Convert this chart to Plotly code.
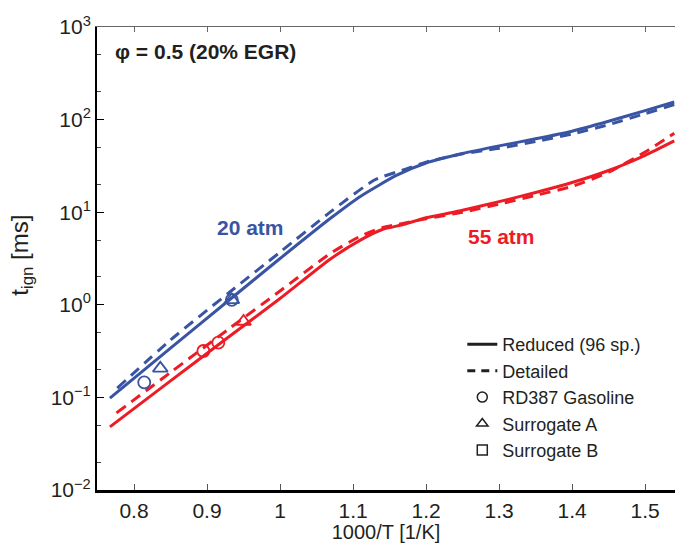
import plotly.graph_objects as go

# ---------------- data ----------------
# x = 1000/T [1/K], t = ignition delay [ms]
x_20_red = [0.767, 0.85, 0.93, 1.0, 1.07, 1.11, 1.16, 1.2, 1.25, 1.3, 1.35, 1.4, 1.45, 1.5, 1.54]
t_20_red = [0.098, 0.34, 1.12, 3.16, 8.7, 14.8, 25.1, 34, 43, 52, 62, 75, 96, 125, 155]

x_20_det = [0.777, 0.85, 0.93, 1.0, 1.07, 1.13, 1.17, 1.2, 1.25, 1.3, 1.35, 1.4, 1.45, 1.5, 1.54]
t_20_det = [0.126, 0.417, 1.35, 3.7, 10.2, 22.4, 28.8, 34.7, 42.7, 49, 58, 70, 88, 116, 145]

x_55_red = [0.767, 0.85, 0.93, 1.0, 1.07, 1.11, 1.14, 1.17, 1.2, 1.25, 1.3, 1.35, 1.4, 1.45, 1.5, 1.54]
t_55_red = [0.048, 0.151, 0.451, 1.17, 3.16, 5.0, 6.5, 7.4, 8.7, 10.5, 13.0, 16.3, 20.9, 28.2, 41.2, 59]

x_55_det = [0.776, 0.85, 0.93, 1.0, 1.07, 1.11, 1.14, 1.17, 1.2, 1.25, 1.3, 1.35, 1.4, 1.45, 1.5, 1.54]
t_55_det = [0.068, 0.186, 0.55, 1.41, 3.63, 5.5, 6.8, 7.6, 8.5, 10, 12.2, 15.2, 19.0, 27, 44.7, 71]

# experiments
x_20_gas = [0.814, 0.934]
t_20_gas = [0.145, 1.13]
x_20_surA = [0.836, 0.934]
t_20_surA = [0.206, 1.13]

x_55_gas = [0.895, 0.9155]
t_55_gas = [0.317, 0.39]
x_55_surA = [0.95]
t_55_surA = [0.66]

x_ticks = [0.8, 0.9, 1.0, 1.1, 1.2, 1.3, 1.4, 1.5]
x_tick_text = ["0.8", "0.9", "1", "1.1", "1.2", "1.3", "1.4", "1.5"]
y_ticks = [0.01, 0.1, 1, 10, 100, 1000]
y_tick_text = ["10<sup>−2</sup>", "10<sup>−1</sup>", "10<sup>0</sup>",
               "10<sup>1</sup>", "10<sup>2</sup>", "10<sup>3</sup>"]

legend_names = ["Reduced (96 sp.)", "Detailed", "RD387 Gasoline", "Surrogate A", "Surrogate B"]

BLUE = "#3A54A4"
RED = "#ED1C24"
INK = "#231F20"
FONT = "Liberation Sans, Arial, sans-serif"

fig = go.Figure()

dash = "11px,7px"
for xs, ys, col, d in [
    (x_20_det, t_20_det, BLUE, dash),
    (x_55_det, t_55_det, RED, dash),
    (x_20_red, t_20_red, BLUE, "solid"),
    (x_55_red, t_55_red, RED, "solid"),
]:
    fig.add_trace(go.Scatter(x=xs, y=ys, mode="lines", showlegend=False,
                             line=dict(color=col, width=3, dash=d, shape="spline", smoothing=0.6)))

for xs, ys, col, sym, sz in [
    (x_20_gas, t_20_gas, BLUE, "circle-open", 12),
    (x_20_surA, t_20_surA, BLUE, "triangle-up-open", 13),
    (x_55_gas, t_55_gas, RED, "circle-open", 12),
    (x_55_surA, t_55_surA, RED, "triangle-up-open", 13),
]:
    fig.add_trace(go.Scatter(x=xs, y=ys, mode="markers", showlegend=False,
                             marker=dict(symbol=sym, size=sz, color=col, line=dict(width=1.8, color=col))))

# legend entries
fig.add_trace(go.Scatter(x=[None], y=[None], mode="lines", name=legend_names[0],
                         line=dict(color=INK, width=3)))
fig.add_trace(go.Scatter(x=[None], y=[None], mode="lines", name=legend_names[1],
                         line=dict(color=INK, width=3, dash="8px,6px")))
for nm, sym in zip(legend_names[2:], ["circle-open", "triangle-up-open", "square-open"]):
    fig.add_trace(go.Scatter(x=[None], y=[None], mode="markers", name=nm,
                             marker=dict(symbol=sym, size=10, color=INK, line=dict(width=1.5, color=INK))))

# invisible trace to anchor the top axis
fig.add_trace(go.Scatter(x=[x_ticks[0]], y=[1], xaxis="x2", mode="markers", showlegend=False,
                         hoverinfo="skip", marker=dict(opacity=0)))

fig.add_annotation(x=0.0277, y=0.948, xref="paper", yref="paper", xanchor="left", yanchor="middle",
                   text="<b>φ = 0.5 (20% EGR)</b>", showarrow=False,
                   font=dict(family=FONT, size=21, color=INK))
fig.add_annotation(x=0.959, y=0.83, text="<b>20 atm</b>", showarrow=False,
                   font=dict(family=FONT, size=21, color=BLUE))
fig.add_annotation(x=1.303, y=0.743, text="<b>55 atm</b>", showarrow=False,
                   font=dict(family=FONT, size=21, color=RED))
# y-axis title
fig.add_annotation(x=-0.13, y=0.508, xref="paper", yref="paper", xanchor="center", yanchor="middle",
                   text="t<sub>ign</sub> [ms]", textangle=-90, showarrow=False,
                   font=dict(family=FONT, size=24, color=INK))

xr = [0.7493, 1.541]
fig.update_layout(
    width=675, height=543,
    margin=dict(l=97, r=0, t=27, b=53),
    paper_bgcolor="white", plot_bgcolor="white",
    font=dict(family=FONT, size=20, color=INK),
    showlegend=True,
    legend=dict(x=0.632, y=0.354, xanchor="left", yanchor="top",
                bgcolor="rgba(0,0,0,0)", font=dict(size=18, color=INK),
                itemwidth=30, tracegroupgap=0),
    xaxis=dict(range=xr, tickvals=x_ticks, ticktext=x_tick_text,
               showline=True, linecolor="black", linewidth=2.5, mirror=False,
               ticks="inside", ticklen=6, tickcolor="#555", tickwidth=1,
               showgrid=False, zeroline=False,
               title=dict(text="1000/T [1/K]", standoff=2, font=dict(size=20)),
               tickfont=dict(size=21)),
    xaxis2=dict(range=xr, overlaying="x", side="top", tickvals=x_ticks,
                showticklabels=False, showline=True, linecolor="#666", linewidth=1,
                ticks="inside", ticklen=5, tickcolor="#666", showgrid=False, zeroline=False),
    yaxis=dict(type="log", range=[-2, 3], tickvals=y_ticks, ticktext=y_tick_text,
               showline=True, linecolor="black", linewidth=2, mirror=False,
               ticks="inside", ticklen=7, tickcolor="black", tickwidth=1,
               minor=dict(ticks="inside", ticklen=4, tickcolor="#444", showgrid=False),
               showgrid=False, zeroline=False,
               tickfont=dict(size=21)),
)

fig.write_html("out.html")
